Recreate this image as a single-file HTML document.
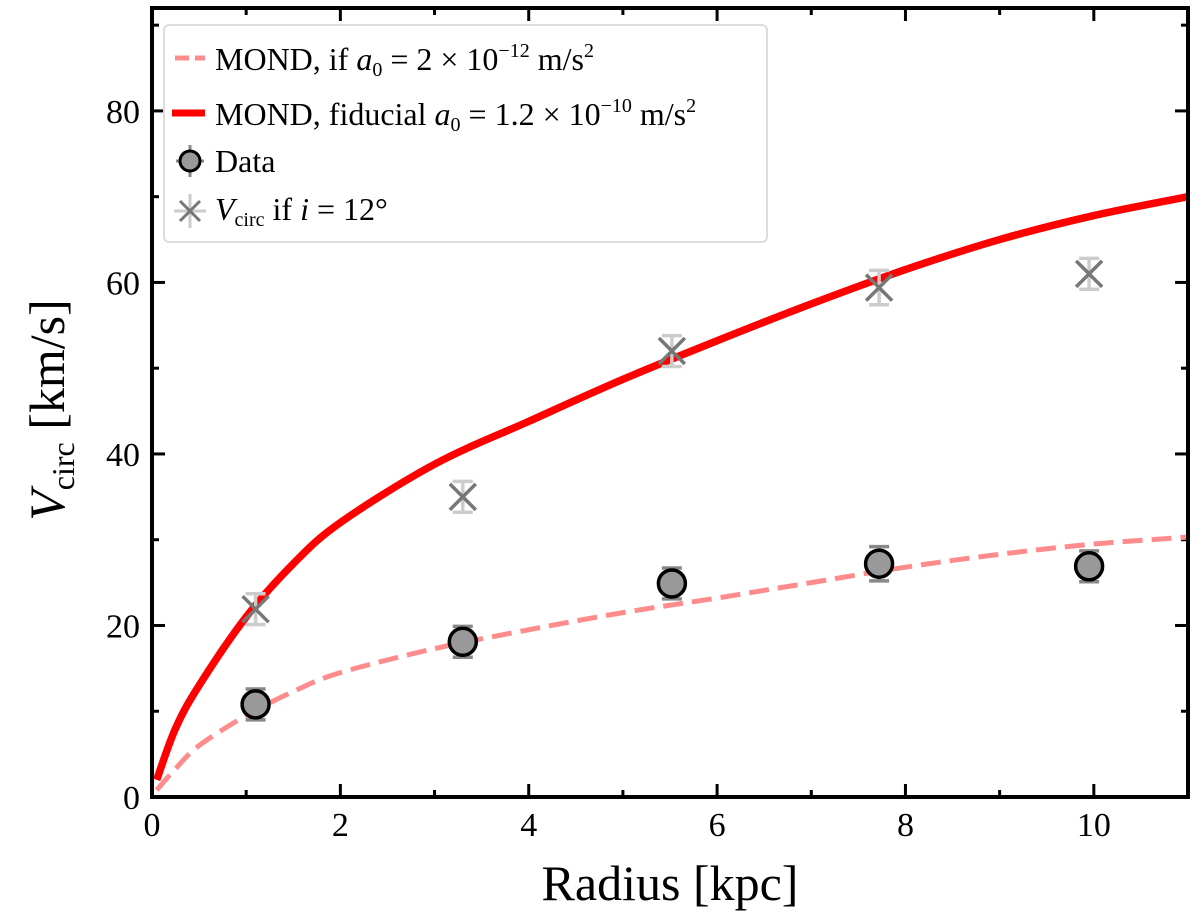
<!DOCTYPE html>
<html><head><meta charset="utf-8"><style>
body{margin:0;background:#fff}
svg{display:block;font-family:"Liberation Serif",serif}
</style></head><body>
<svg id="chart" width="1200" height="923">
<g id="plot"></g>
</svg>
<script>
const curveX=[0.05,0.25,0.5,1,1.5,2,3,4,5,6,7,8,9,10,11];
const fiducialY=[2,8,13,21,27.2,32,38.8,43.8,48.7,53.2,57.5,61.5,65,67.8,70];
const lowA0Y=[0.8,3.3,6,9.5,12.3,14.5,17.3,19.5,21.5,23.2,25,26.8,28.3,29.5,30.3];
const dataX=[1.1,3.3,5.52,7.72,9.95];
const dataY=[10.8,18.1,24.9,27.2,26.9];
const dataErr=[1.8,1.8,1.8,2,1.8];
const incY=[21.9,35,52,59.4,61];
const incErr=[1.8,1.8,1.8,2,1.8];
const xTicks=[0,2,4,6,8,10];
const yTicks=[0,20,40,60,80];
const L=152,R=1188,T=8,B=797;
const X=v=>L+v*(R-L)/11, Y=v=>B-v*(B-T)/92;
const NS="http://www.w3.org/2000/svg";
const g=document.getElementById('plot');
function mk(t,a,p){const e=document.createElementNS(NS,t);for(const k in a)e.setAttribute(k,a[k]);(p||g).appendChild(e);return e;}
for(let i=0;i<=11;i++){const x=X(i),len=(i%2==0)?13:7;
 let e=mk('line',{x1:x,x2:x,y1:B,y2:B-len,stroke:'#000','stroke-width':3});
 e=mk('line',{x1:x,x2:x,y1:T,y2:T+len,stroke:'#000','stroke-width':3});}
for(let v=0;v<=90;v+=10){const y=Y(v),len=(v%20==0)?13:7;
 let e=mk('line',{x1:L,x2:L+len,y1:y,y2:y,stroke:'#000','stroke-width':3});
 e=mk('line',{x1:R,x2:R-len,y1:y,y2:y,stroke:'#000','stroke-width':3});}
xTicks.forEach(v=>{const t=mk('text',{x:X(v),y:836,'font-size':34,'text-anchor':'middle'});t.textContent=v;});
yTicks.forEach(v=>{const t=mk('text',{x:140,y:Y(v)+12,'font-size':34,'text-anchor':'end'});t.textContent=v;});
let t=mk('text',{x:670,y:900,'font-size':50,'text-anchor':'middle'});t.textContent='Radius [kpc]';
t=mk('text',{transform:'translate(64,410) rotate(-90)','font-size':50,'text-anchor':'middle'});
t.innerHTML='<tspan font-style="italic">V</tspan><tspan font-size="32" dy="10">circ</tspan><tspan dy="-10"> [km/s]</tspan>';

function smooth(ys){const p=curveX.map((x,i)=>[X(x),Y(ys[i])]);let d='M'+p[0][0]+','+p[0][1];
 for(let i=0;i<p.length-1;i++){const p0=p[i-1]||p[i],p1=p[i],p2=p[i+1],p3=p[i+2]||p2;
  d+=`C${p1[0]+(p2[0]-p0[0])/6},${p1[1]+(p2[1]-p0[1])/6} ${p2[0]-(p3[0]-p1[0])/6},${p2[1]-(p3[1]-p1[1])/6} ${p2[0]},${p2[1]}`;}
 return d;}
let e=mk('path',{d:smooth(lowA0Y),fill:'none',stroke:'#ff8c8c','stroke-width':5,'stroke-dasharray':'20,9'});
e=mk('path',{d:smooth(fiducialY),fill:'none',stroke:'#ff0000','stroke-width':7.5});
dataX.forEach((x,i)=>{const cx=X(x);
 const a=mk('g',{});
 const y=Y(incY[i]),y1=Y(incY[i]-incErr[i]),y2=Y(incY[i]+incErr[i]);
 mk('line',{x1:cx,x2:cx,y1:y1,y2:y2,stroke:'#ccc','stroke-width':3.5},a);
 mk('line',{x1:cx-10,x2:cx+10,y1:y1,y2:y1,stroke:'#ccc','stroke-width':3.5},a);
 mk('line',{x1:cx-10,x2:cx+10,y1:y2,y2:y2,stroke:'#ccc','stroke-width':3.5},a);
 mk('path',{d:`M${cx-13},${y-13}L${cx+13},${y+13}M${cx-13},${y+13}L${cx+13},${y-13}`,stroke:'#777','stroke-width':3.5},a);
 const b=mk('g',{});
 const dy=Y(dataY[i]),d1=Y(dataY[i]-dataErr[i]),d2=Y(dataY[i]+dataErr[i]);
 mk('line',{x1:cx,x2:cx,y1:d1,y2:d2,stroke:'#888','stroke-width':3.5},b);
 mk('line',{x1:cx-10,x2:cx+10,y1:d1,y2:d1,stroke:'#888','stroke-width':3.5},b);
 mk('line',{x1:cx-10,x2:cx+10,y1:d2,y2:d2,stroke:'#888','stroke-width':3.5},b);
 mk('circle',{cx:cx,cy:dy,r:13.5,fill:'#999',stroke:'#000','stroke-width':3.5},b);
});
e=mk('rect',{x:L,y:T,width:R-L,height:B-T,fill:'none',stroke:'#000','stroke-width':4});
const lg=mk('g',{});
mk('rect',{x:164,y:25,width:603,height:217,rx:5,fill:'#fff','fill-opacity':0.85,stroke:'#ddd','stroke-width':2},lg);
mk('line',{x1:175,x2:205,y1:58,y2:58,stroke:'#ff8c8c','stroke-width':5,'stroke-dasharray':'14,6'},lg);
mk('line',{x1:172,x2:205,y1:113,y2:113,stroke:'#f00','stroke-width':7},lg);
mk('line',{x1:190,x2:190,y1:145,y2:177,stroke:'#888','stroke-width':3},lg);
mk('line',{x1:176,x2:204,y1:161,y2:161,stroke:'#888','stroke-width':3},lg);
mk('circle',{cx:190,cy:161,r:10,fill:'#999',stroke:'#000','stroke-width':3},lg);
mk('line',{x1:190,x2:190,y1:194,y2:228,stroke:'#ccc','stroke-width':3},lg);
mk('line',{x1:174,x2:206,y1:211,y2:211,stroke:'#ccc','stroke-width':3},lg);
mk('path',{d:'M180,201L200,221M180,221L200,201',stroke:'#777','stroke-width':3},lg);
const labels=[
 [70,'MOND, if <tspan font-style="italic">a</tspan><tspan font-size="20" dy="6">0</tspan><tspan dy="-6"> = 2 × 10</tspan><tspan font-size="20" dy="-13">−12</tspan><tspan dy="13"> m/s</tspan><tspan font-size="20" dy="-13">2</tspan>','legend-label-low-a0'],
 [125,'MOND, fiducial <tspan font-style="italic">a</tspan><tspan font-size="20" dy="6">0</tspan><tspan dy="-6"> = 1.2 × 10</tspan><tspan font-size="20" dy="-13">−10</tspan><tspan dy="13"> m/s</tspan><tspan font-size="20" dy="-13">2</tspan>','legend-label-fiducial'],
 [172,'Data','legend-label-data'],
 [220,'<tspan font-style="italic">V</tspan><tspan font-size="20" dy="6">circ</tspan><tspan dy="-6"> if </tspan><tspan font-style="italic">i</tspan> = 12°','legend-label-inclination']];
labels.forEach(l=>{const tt=mk('text',{x:215,y:l[0],'font-size':32},lg);tt.innerHTML=l[1];});
</script>
</body></html>
